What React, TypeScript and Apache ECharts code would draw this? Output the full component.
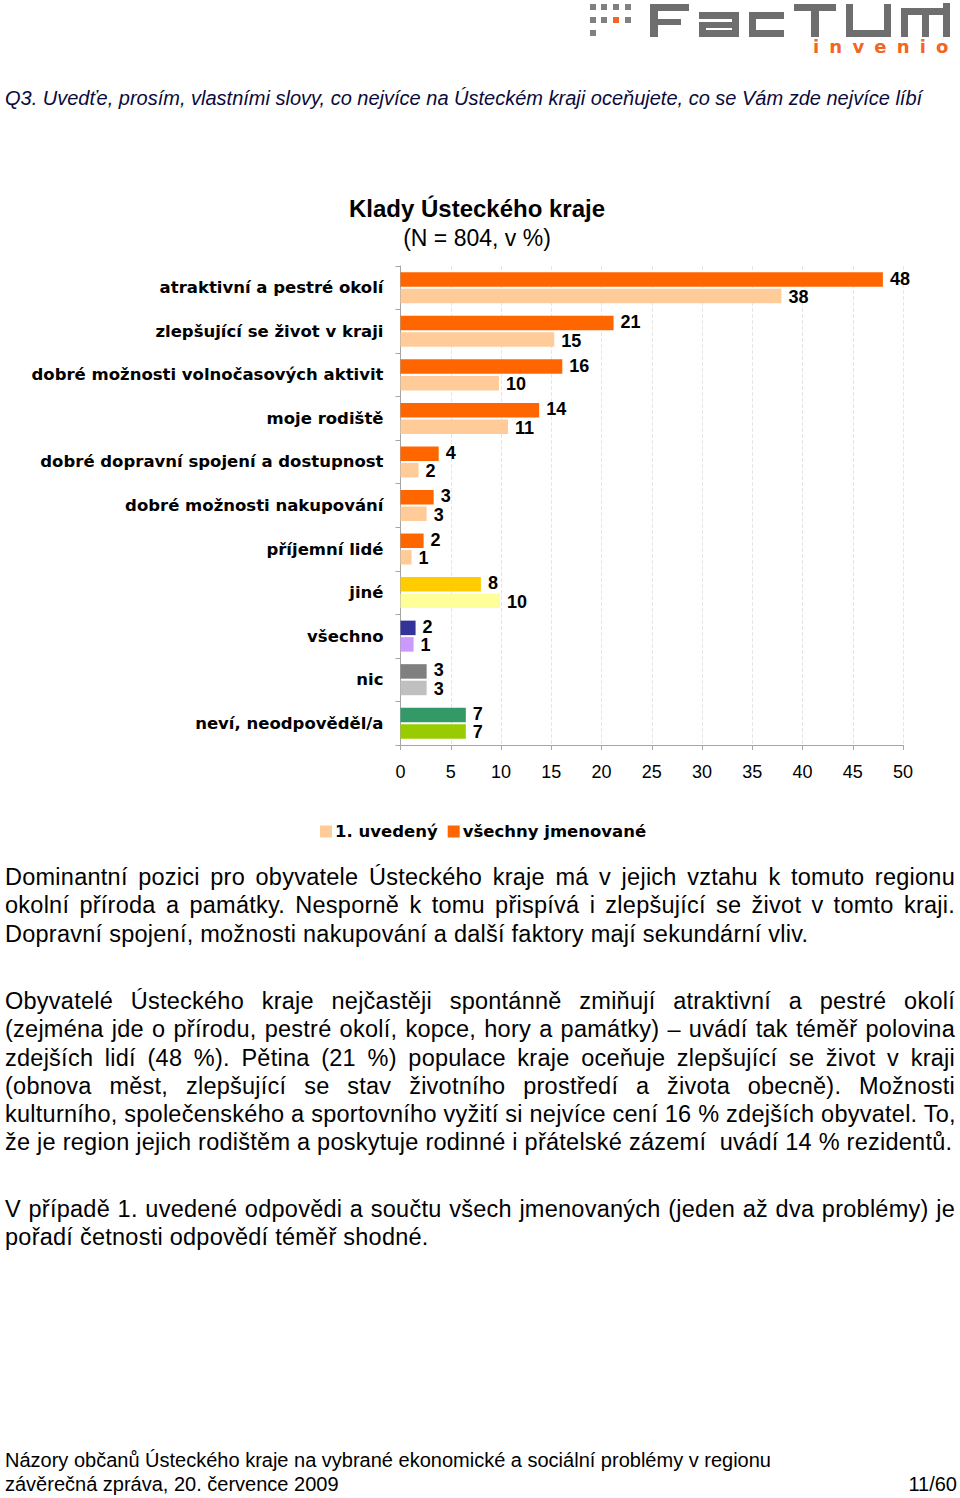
import React, { useEffect, useRef } from "react";
import * as echarts from "echarts";

const categories = [
  "atraktivní a pestré okolí",
  "zlepšující se život v kraji",
  "dobré možnosti volnočasových aktivit",
  "moje rodiště",
  "dobré dopravní spojení a dostupnost",
  "dobré možnosti nakupování",
  "příjemní lidé",
  "jiné",
  "všechno",
  "nic",
  "neví, neodpověděl/a",
];
const allNamed = [48.0, 21.2, 16.1, 13.8, 3.8, 3.3, 2.3, 8.0, 1.5, 2.6, 6.5];
const firstNamed = [37.9, 15.3, 9.8, 10.7, 1.8, 2.6, 1.1, 9.9, 1.3, 2.6, 6.5];
const darkColors = ["#ff6600", "#ff6600", "#ff6600", "#ff6600", "#ff6600", "#ff6600", "#ff6600", "#ffcc00", "#333399", "#808080", "#339966"];
const lightColors = ["#ffcc99", "#ffcc99", "#ffcc99", "#ffcc99", "#ffcc99", "#ffcc99", "#ffcc99", "#ffff99", "#cc99ff", "#c0c0c0", "#99cc00"];
const seriesNames = ["všechny jmenované", "1. uvedený"];
const legendOrder = ["1. uvedený", "všechny jmenované"];

const question = "Q3. Uvedťe, prosím, vlastními slovy, co nejvíce na Ústeckém kraji oceňujete, co se Vám zde nejvíce líbí";
const chartTitle = "Klady Ústeckého kraje";
const chartSubtitle = "(N = 804, v %)";

const para1 = [
  "Dominantní pozici pro obyvatele Ústeckého kraje má v jejich vztahu k tomuto regionu",
  "okolní příroda a památky. Nesporně k tomu přispívá i zlepšující se život v tomto kraji.",
  "Dopravní spojení, možnosti nakupování a další faktory mají sekundární vliv.",
];
const para2 = [
  "Obyvatelé Ústeckého kraje nejčastěji spontánně zmiňují atraktivní a pestré okolí",
  "(zejména jde o přírodu, pestré okolí, kopce, hory a památky) – uvádí tak téměř polovina",
  "zdejších lidí (48 %). Pětina (21 %) populace kraje oceňuje zlepšující se život v kraji",
  "(obnova měst, zlepšující se stav životního prostředí a života obecně). Možnosti",
  "kulturního, společenského a sportovního vyžití si nejvíce cení 16 % zdejších obyvatel. To,",
  "že je region jejich rodištěm a poskytuje rodinné i přátelské zázemí  uvádí 14 % rezidentů.",
];
const para3 = [
  "V případě 1. uvedené odpovědi a součtu všech jmenovaných (jeden až dva problémy) je",
  "pořadí četnosti odpovědí téměř shodné.",
];
const footer1 = "Názory občanů Ústeckého kraje na vybrané ekonomické a sociální problémy v regionu";
const footer2 = "závěrečná zpráva, 20. července 2009";
const pageNo = "11/60";

const FONT = '"Liberation Sans", Arial, sans-serif';
const WIDE = '"DejaVu Sans", "Liberation Sans", sans-serif';

function Paragraph({ lines, top }: { lines: string[]; top: number }) {
  return (
    <div style={{ position: "absolute", left: 5, top, width: 950, fontFamily: FONT, fontSize: 23.5, letterSpacing: 0.25, lineHeight: "28.3px", color: "#000" }}>
      {lines.map((l, i) => (
        <div
          key={i}
          style={{
            textAlign: i === lines.length - 1 ? "left" : "justify",
            textAlignLast: i === lines.length - 1 ? "left" : "justify",
            whiteSpace: "pre",
            height: 28.3,
          }}
        >
          {l}
        </div>
      ))}
    </div>
  );
}

const sq = (x: number, y: number, c = "#808080") => (
  <div key={`${x}-${y}`} style={{ position: "absolute", left: x, top: y, width: 6, height: 6, background: c }} />
);
const rr = (k: string, x: number, y: number, w: number, h: number) => (
  <div key={k} style={{ position: "absolute", left: x, top: y, width: w, height: h, background: "#6e6e6e" }} />
);

function Logo() {
  return (
    <div>
      {sq(590, 4)}{sq(601, 4)}{sq(613, 4)}{sq(625, 4)}
      {sq(590, 17)}{sq(601, 17)}{sq(613, 17, "#f26522")}{sq(625, 17)}
      {sq(590, 30)}
      {rr("f1", 650, 4, 8, 33)}{rr("f2", 650, 4, 39, 7)}{rr("f3", 650, 19, 31, 6)}
      {rr("a1", 699, 12, 40, 7)}{rr("a2", 732, 12, 7, 25)}{rr("a3", 699, 22, 40, 6)}{rr("a4", 699, 22, 7, 15)}{rr("a5", 699, 30, 40, 7)}
      {rr("c1", 749, 12, 35, 7)}{rr("c2", 749, 12, 7, 25)}{rr("c3", 749, 30, 35, 7)}
      {rr("t1", 794, 4, 42, 7)}{rr("t2", 811, 4, 8, 33)}
      {rr("u1", 846, 4, 7, 33)}{rr("u2", 884, 4, 7, 33)}{rr("u3", 846, 30, 45, 7)}
      {rr("m1", 901, 8, 7, 29)}{rr("m2", 901, 8, 49, 7)}{rr("m3", 922, 8, 7, 29)}{rr("m4", 943, 3, 7, 34)}
      <div style={{ position: "absolute", left: 813, top: 37, fontFamily: WIDE, fontWeight: "bold", fontSize: 18, letterSpacing: 10.2, color: "#f26522", lineHeight: "20px" }}>
        invenio
      </div>
    </div>
  );
}

export default function App() {
  const ref = useRef<HTMLDivElement>(null);
  useEffect(() => {
    if (!ref.current) return;
    const chart = echarts.init(ref.current, undefined, { renderer: "svg" });
    const labelCfg = (dy: number) => ({
      show: true,
      position: "right",
      distance: 7,
      offset: [0, dy],
      fontSize: 18,
      lineHeight: 17,
      fontWeight: "bold",
      color: "#000",
      fontFamily: FONT,
      formatter: (p: any) => String(Math.round(p.value)),
    });
    chart.setOption({
      animation: false,
      textStyle: { fontFamily: FONT },
      title: {
        text: chartTitle,
        subtext: chartSubtitle,
        left: 472,
        top: 191,
        textAlign: "center",
        itemGap: 6,
        textStyle: { fontSize: 24, fontWeight: "bold", color: "#000", fontFamily: FONT },
        subtextStyle: { fontSize: 23, color: "#000", fontFamily: FONT },
      },
      grid: { left: 400.5, top: 266, width: 502.5, height: 479, containLabel: false },
      xAxis: {
        type: "value",
        min: 0,
        max: 50,
        interval: 5,
        axisLine: { show: true, lineStyle: { color: "#a6a6a6" } },
        axisTick: { show: true, length: 5, lineStyle: { color: "#a6a6a6" } },
        splitLine: { show: true, lineStyle: { type: "dashed", color: "#e6e6e6" } },
        axisLabel: { fontSize: 18, color: "#000", margin: 18, fontFamily: FONT },
      },
      yAxis: {
        type: "category",
        inverse: true,
        data: categories,
        axisLine: { show: true, lineStyle: { color: "#a6a6a6" } },
        axisTick: { show: true, length: 5, lineStyle: { color: "#a6a6a6" } },
        axisLabel: { fontSize: 16.5, fontWeight: "bold", color: "#000", margin: 17, fontFamily: WIDE },
      },
      legend: {
        data: legendOrder,
        left: 315,
        top: 818,
        itemWidth: 12,
        itemHeight: 12,
        itemGap: 10,
        icon: "rect",
        textStyle: { fontSize: 16.5, fontWeight: "bold", color: "#000", fontFamily: WIDE, padding: [0, 0, 0, -2] },
      },
      series: [
        {
          name: seriesNames[0],
          type: "bar",
          barWidth: 14.5,
          barGap: "14%",
          itemStyle: { color: "#ff6600" },
          data: allNamed.map((v, i) => ({ value: v, itemStyle: { color: darkColors[i] } })),
          label: labelCfg(-1),
        },
        {
          name: seriesNames[1],
          type: "bar",
          barWidth: 14.5,
          barGap: "14%",
          itemStyle: { color: "#ffcc99" },
          data: firstNamed.map((v, i) => ({ value: v, itemStyle: { color: lightColors[i] } })),
          label: labelCfg(1),
        },
      ],
    });
    return () => chart.dispose();
  }, []);

  return (
    <div style={{ position: "absolute", left: 0, top: 0, width: 960, height: 1498, background: "#fff", overflow: "hidden" }}>
      <Logo />
      <div style={{ position: "absolute", left: 5, top: 86, fontFamily: FONT, fontStyle: "italic", fontSize: 20, lineHeight: "24px", color: "#0a0a3c", whiteSpace: "nowrap" }}>
        {question}
      </div>
      <div ref={ref} style={{ position: "absolute", left: 0, top: 0, width: 960, height: 860 }} />
      <Paragraph lines={para1} top={863} />
      <Paragraph lines={para2} top={987} />
      <Paragraph lines={para3} top={1195} />
      <div style={{ position: "absolute", left: 5, top: 1449, width: 952, fontFamily: FONT, fontSize: 20, lineHeight: "23.5px", color: "#000" }}>
        <div style={{ whiteSpace: "nowrap" }}>{footer1}</div>
        <div style={{ display: "flex", justifyContent: "space-between" }}>
          <span>{footer2}</span>
          <span>{pageNo}</span>
        </div>
      </div>
    </div>
  );
}
